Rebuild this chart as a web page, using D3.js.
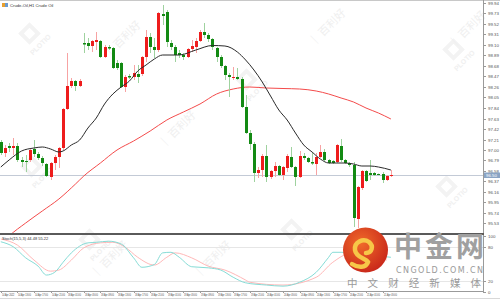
<!DOCTYPE html>
<html><head><meta charset="utf-8">
<script src="https://cdn.jsdelivr.net/npm/d3@7/dist/d3.min.js"></script>
<style>html,body{margin:0;padding:0;background:#fff;overflow:hidden}svg{display:block}</style>
</head><body><svg id="c" width="500" height="300"></svg>
<script>
// ---- data (H1 candles, red = up, green = down) ----
const opens  = [97.16,96.94,97.08,97.04,97.08,96.80,96.78,96.80,97.02,96.92,96.84,96.72,96.46,96.74,96.86,97.04,97.82,98.28,98.38,98.28,
 99.14,99.14,99.08,99.16,99.18,98.86,99.06,99.04,98.74,98.74,98.26,98.48,98.46,98.52,98.52,98.86,99.26,99.06,99.00,99.72,
 99.76,99.14,99.06,98.94,98.90,98.86,99.02,99.06,99.18,99.36,99.30,99.22,99.04,98.86,98.68,98.50,98.44,98.46,98.42,97.86,
 97.34,97.12,96.54,96.60,96.88,96.46,96.58,96.68,96.50,96.64,96.86,96.66,96.46,96.88,96.84,96.76,96.72,96.86,96.96,96.80,
 96.78,96.76,97.08,96.80,96.74,96.70,95.62,96.24,96.58,96.54,96.54,96.52,96.52,96.40,96.48];
const highs  = [97.20,97.10,97.14,97.24,97.14,96.86,96.90,97.04,97.20,96.96,96.88,96.74,96.76,96.90,97.06,97.84,98.94,98.44,98.40,98.42,
 99.34,99.24,99.20,99.36,99.20,99.10,99.10,99.06,98.80,98.76,98.50,98.52,98.70,98.70,98.88,99.40,99.34,99.24,99.76,99.90,
 99.80,99.20,99.10,99.00,98.94,99.04,99.20,99.24,99.40,99.54,99.34,99.24,99.06,98.90,98.70,98.54,98.66,98.64,98.46,98.10,
 97.40,97.16,96.66,96.92,97.10,96.60,96.76,96.70,96.68,96.92,97.06,96.68,96.98,96.94,96.86,96.94,96.94,97.10,97.02,96.82,
 96.80,97.12,97.22,96.82,96.76,96.76,96.28,96.60,96.60,96.80,96.56,96.53,96.56,96.50,96.60];
const lows   = [96.90,96.86,96.96,96.90,96.76,96.66,96.56,96.76,96.86,96.80,96.68,96.46,96.40,96.60,96.64,97.00,97.80,98.24,98.18,98.26,
 98.94,99.00,98.96,99.00,98.84,98.84,99.00,98.62,98.60,98.24,98.16,98.42,98.40,98.34,98.48,98.76,98.94,98.84,98.96,99.50,
 99.06,99.00,98.76,98.84,98.80,98.84,98.96,98.94,99.16,99.24,99.16,99.00,98.76,98.64,98.40,98.06,98.40,98.40,97.84,97.32,
 97.00,96.36,96.44,96.46,96.36,96.42,96.46,96.48,96.40,96.56,96.64,96.28,96.44,96.80,96.74,96.70,96.50,96.84,96.76,96.72,
 96.72,96.74,96.76,96.72,96.66,95.46,95.44,96.20,96.36,96.40,96.48,96.50,96.34,96.38,96.46];
const closes = [96.94,97.04,97.04,97.08,96.80,96.76,96.76,97.00,96.92,96.84,96.74,96.48,96.74,96.86,97.04,97.82,98.28,98.38,98.28,98.38,
 99.11,99.08,99.18,99.20,98.86,99.06,99.03,98.64,98.64,98.26,98.46,98.45,98.54,98.46,98.86,99.26,99.06,99.00,99.74,99.68,
 99.16,99.06,98.90,98.90,98.86,99.02,99.08,99.18,99.36,99.30,99.22,99.06,98.86,98.68,98.50,98.46,98.46,98.42,97.86,97.34,
 97.12,96.54,96.60,96.88,96.46,96.58,96.68,96.50,96.66,96.88,96.66,96.46,96.88,96.84,96.76,96.73,96.86,96.96,96.80,96.74,
 96.74,97.10,96.80,96.74,96.70,95.64,96.26,96.58,96.38,96.50,96.50,96.51,96.40,96.48,96.50];

// moving averages: [bar, value]
const maFast = [[0,96.66],[2,96.80],[5,96.98],[8,97.04],[10,97.06],[12,97.02],[14,96.96],[15,96.98],[17,97.10],[19,97.20],[21,97.44],
 [23,97.64],[25,97.92],[27,98.12],[29,98.26],[31,98.38],[33,98.58],[35,98.70],[37,98.82],[39,98.90],[43,98.90],[47,99.00],[51,99.09],
 [54,99.08],[57,98.96],[59,98.80],[61,98.60],[63,98.36],[65,98.08],[67,97.80],[69,97.60],[71,97.34],[73,97.10],[75,96.96],[77,96.82],
 [79,96.74],[81,96.74],[83,96.74],[85,96.72],[87,96.68],[89,96.68],[91,96.66],[94,96.60]];
const maSlow = [[1,95.20],[2,95.28],[6,95.54],[10,95.78],[14,96.02],[18,96.32],[20,96.48],[24,96.74],[28,97.00],[32,97.18],[36,97.38],
 [40,97.60],[44,97.76],[48,97.92],[52,98.12],[56,98.22],[60,98.26],[64,98.24],[68,98.23],[72,98.22],[76,98.18],[79,98.12],[82,98.04],
 [85,97.96],[88,97.84],[91,97.74],[94,97.62]];

// stochastic (15,5,3)
const stochMain = [[0,90],[3,81],[6,61],[9,46],[11,30],[13,35],[15,53],[17,70],[21,88],[23,89],[26,91],[29,86],[32,61],[34,44],[37,49],
 [39,70],[41,71],[43,62],[46,45],[50,43],[53,39],[56,26],[59,16],[64,12],[68,10],[72,17],[76,35],[79,62],[80,71],[82,71],[84,70],[89,66],[94,62]];
const stochSignal = [[0,95],[4,84],[8,57],[12,37],[14,39],[17,57],[20,79],[24,88],[27,89],[30,80],[33,62],[37,48],[40,62],[42,70],[46,61],
 [50,46],[54,39],[59,21],[60,17],[68,12],[76,26],[80,53],[84,68],[93,57]];
const stochLevels = [80, 20];
const stochTicks = [100, 80, 20, 0];

const priceTicks = d3.range(22).map(k => +(99.94 - 0.21*k).toFixed(2));
const currentPrice = 96.50;
const timeLabels = ["14 Apr 2022","14 Apr 13:00","14 Apr 17:00","14 Apr 21:00","18 Apr 01:00","18 Apr 05:00","18 Apr 09:00",
 "18 Apr 13:00","18 Apr 17:00","18 Apr 21:00","19 Apr 01:00","19 Apr 05:00","19 Apr 09:00","19 Apr 13:00","19 Apr 17:00",
 "19 Apr 21:00","20 Apr 01:00","20 Apr 05:00","20 Apr 09:00","20 Apr 13:00","20 Apr 17:00","20 Apr 21:00","21 Apr 01:00","21 Apr 05:00"];
const labelEvery = 4;

// ---- layout ----
const W = 500, H = 300, plotR = 483, mainTop = 1, mainBot = 233, stTop = 235, stBot = 291;
const svg = d3.select("#c");
const FONT = "Liberation Sans, Arial, sans-serif";

const x = d3.scaleLinear().domain([0, 94]).range([0.8, 390.9]);
const y = d3.scaleLinear().domain([95.32, 99.94]).range([234, 3]);
const ys = d3.scaleLinear().domain([0, 100]).range([291.7, 236.2]);

const defs = svg.append("defs");
defs.append("clipPath").attr("id","cm").append("rect").attr("x",0).attr("y",mainTop).attr("width",plotR).attr("height",mainBot-mainTop);
defs.append("clipPath").attr("id","cs").append("rect").attr("x",0).attr("y",stTop).attr("width",plotR).attr("height",stBot-stTop);

// faint background watermarks
const wm = svg.append("g").attr("font-family","Noto Sans CJK SC, sans-serif");
[[38,42],[255,88],[462,58],[455,195],[98,248],[40,175],[300,238]].forEach(([cx,cy])=>{
  const g = wm.append("g").attr("transform",`translate(${cx},${cy}) rotate(-45)`);
  g.append("rect").attr("x",-8).attr("y",-20).attr("width",16).attr("height",16).attr("fill","#f3f3f3");
  g.append("rect").attr("x",-4).attr("y",-16).attr("width",8).attr("height",8).attr("fill","#fff");
  g.append("text").attr("x",0).attr("y",6).attr("text-anchor","middle").attr("font-family",FONT).attr("font-size",7)
    .attr("font-weight","bold").attr("fill","#f0f0f0").text("PLOTIO");
});
[[125,42],[330,30],[470,32],[215,262],[112,262],[180,132]].forEach(([cx,cy])=>{
  wm.append("text").attr("transform",`translate(${cx},${cy}) rotate(-45)`).attr("text-anchor","middle")
    .attr("font-size",11).attr("fill","#efefef").text("│ 百利好");
});

// frame lines
svg.append("line").attr("x1",0).attr("x2",W).attr("y1",0.5).attr("y2",0.5).attr("stroke","#c8c8c8");
svg.append("line").attr("x1",plotR+0.5).attr("x2",plotR+0.5).attr("y1",0).attr("y2",stBot+1).attr("stroke","#9a9a9a");
svg.append("rect").attr("x",0).attr("y",233).attr("width",plotR+1).attr("height",2).attr("fill","#5a5a5a");
svg.append("line").attr("x1",0).attr("x2",plotR+1).attr("y1",stBot+0.5).attr("y2",stBot+0.5).attr("stroke","#9a9a9a");
svg.append("line").attr("x1",0).attr("x2",W).attr("y1",298.5).attr("y2",298.5).attr("stroke","#d8d8d8");

// main pane
const main = svg.append("g").attr("clip-path","url(#cm)");
main.append("line").attr("x1",0).attr("x2",plotR).attr("y1",Math.round(y(currentPrice))+0.5).attr("y2",Math.round(y(currentPrice))+0.5)
  .attr("stroke","#c3cad6").attr("stroke-width",1);

const line = d3.line().x(d=>x(d[0])).y(d=>y(d[1])).curve(d3.curveMonotoneX);
main.append("path").attr("d",line(maSlow)).attr("fill","none").attr("stroke","#f44b4b").attr("stroke-width",1);

const bars = d3.range(opens.length);
const cg = main.append("g");
cg.selectAll("line.w").data(bars).join("line")
  .attr("x1",i=>Math.round(x(i))+0.5).attr("x2",i=>Math.round(x(i))+0.5)
  .attr("y1",i=>y(highs[i])).attr("y2",i=>y(lows[i]))
  .attr("stroke",i=>closes[i]>=opens[i]?"#f7a3a3":"#9fd29f").attr("stroke-width",1);
cg.selectAll("rect.b").data(bars).join("rect")
  .attr("x",i=>Math.round(x(i))-1).attr("width",3)
  .attr("y",i=>y(Math.max(opens[i],closes[i])))
  .attr("height",i=>Math.max(1,Math.abs(y(opens[i])-y(closes[i]))))
  .attr("fill",i=>closes[i]>=opens[i]?"#ee1c1c":"#138a13");

main.append("path").attr("d",line(maFast)).attr("fill","none").attr("stroke","#2a2a2a").attr("stroke-width",1);

// price axis
const pa = svg.append("g").attr("font-family",FONT).attr("font-size",4.4).attr("fill","#555");
priceTicks.forEach(t=>{
  const yy = Math.round(y(t))+0.5;
  pa.append("line").attr("x1",plotR).attr("x2",plotR+3).attr("y1",yy).attr("y2",yy).attr("stroke","#9a9a9a");
  pa.append("text").attr("x",plotR+5).attr("y",yy+1.5).text(t.toFixed(2));
});
const cy0 = Math.round(y(currentPrice));
svg.append("rect").attr("x",plotR+1).attr("y",cy0-2.5).attr("width",16).attr("height",5.5).attr("fill","#8aa4c4");
svg.append("text").attr("x",plotR+3).attr("y",cy0+1.7).attr("font-family",FONT).attr("font-size",4.4).attr("fill","#fff").text(currentPrice.toFixed(2));

// title
svg.append("rect").attr("x",2).attr("y",3).attr("width",3).attr("height",4).attr("fill","#e8a030");
svg.append("rect").attr("x",5).attr("y",3).attr("width",3).attr("height",4).attr("fill","#6a9ad0");
svg.append("text").attr("x",10).attr("y",7).attr("font-family",FONT).attr("font-size",4.2).attr("fill","#333").text("Crude-Oil,H1  Crude Oil");

// stochastic pane
const st = svg.append("g").attr("clip-path","url(#cs)");
stochLevels.forEach(l=>{
  st.append("line").attr("x1",0).attr("x2",plotR).attr("y1",Math.round(ys(l))+0.5).attr("y2",Math.round(ys(l))+0.5).attr("stroke","#e6e6e6");
});
const sline = d3.line().x(d=>x(d[0])).y(d=>ys(d[1])).curve(d3.curveMonotoneX);
st.append("path").attr("d",sline(stochSignal)).attr("fill","none").attr("stroke","#ffb8b8").attr("stroke-width",1);
st.append("path").attr("d",sline(stochMain)).attr("fill","none").attr("stroke","#86dcd6").attr("stroke-width",1);
svg.append("text").attr("x",2).attr("y",240).attr("font-family",FONT).attr("font-size",4).attr("fill","#333").text("Stoch(15,5,3) 44.48 55.22");
stochTicks.forEach(t=>{
  const yy = Math.round(ys(t))+0.5;
  svg.append("line").attr("x1",plotR).attr("x2",plotR+3).attr("y1",yy).attr("y2",yy).attr("stroke","#9a9a9a");
  svg.append("text").attr("x",plotR+5).attr("y",yy+1.5).attr("font-family",FONT).attr("font-size",4.4).attr("fill","#555").text(t);
});

// time axis (condensed labels, as in the terminal screenshot)
const ta = svg.append("g").attr("font-family",FONT).attr("font-size",3.8).attr("fill","#444");
timeLabels.forEach((t,k)=>{
  const xx = Math.round(x(k*labelEvery));
  ta.append("line").attr("x1",xx+0.5).attr("x2",xx+0.5).attr("y1",stBot).attr("y2",stBot+2).attr("stroke","#9a9a9a");
  ta.append("text").attr("transform",`translate(${xx+1},295.5) scale(0.6,1)`).text(t);
});

// cngold watermark logo
const lg = svg.append("g");
const grad = defs.append("radialGradient").attr("id","rg").attr("cx","40%").attr("cy","35%").attr("r","70%");
grad.append("stop").attr("offset","0%").attr("stop-color","#f06a2a");
grad.append("stop").attr("offset","100%").attr("stop-color","#c8261a");
lg.append("circle").attr("cx",365.5).attr("cy",250).attr("r",22.5).attr("fill","url(#rg)");
lg.append("path").attr("d","M366,253 C372,253 374,246 369,242 C363,238 354,242 355,250 C356,258 366,258 368,262 C366,268 358,268 352,264")
  .attr("fill","none").attr("stroke","#f7c748").attr("stroke-width",4.5).attr("stroke-linecap","round");
lg.append("text").attr("x",394).attr("y",257).attr("font-family","Noto Sans CJK SC, sans-serif").attr("font-weight","bold")
  .attr("font-size",28).attr("fill","#a0a0a0").attr("textLength",90).text("中金网");
lg.append("text").attr("x",396).attr("y",272.5).attr("font-family","DejaVu Sans, sans-serif")
  .attr("font-size",8).attr("fill","#9a9a9a").attr("textLength",87).text("CNGOLD.COM.CN");
lg.append("text").attr("x",347).attr("y",287).attr("font-family","Noto Sans CJK SC, sans-serif")
  .attr("font-size",10.5).attr("fill","#9a9a9a").attr("textLength",134).text("中文财经新媒体");
</script></body></html>
